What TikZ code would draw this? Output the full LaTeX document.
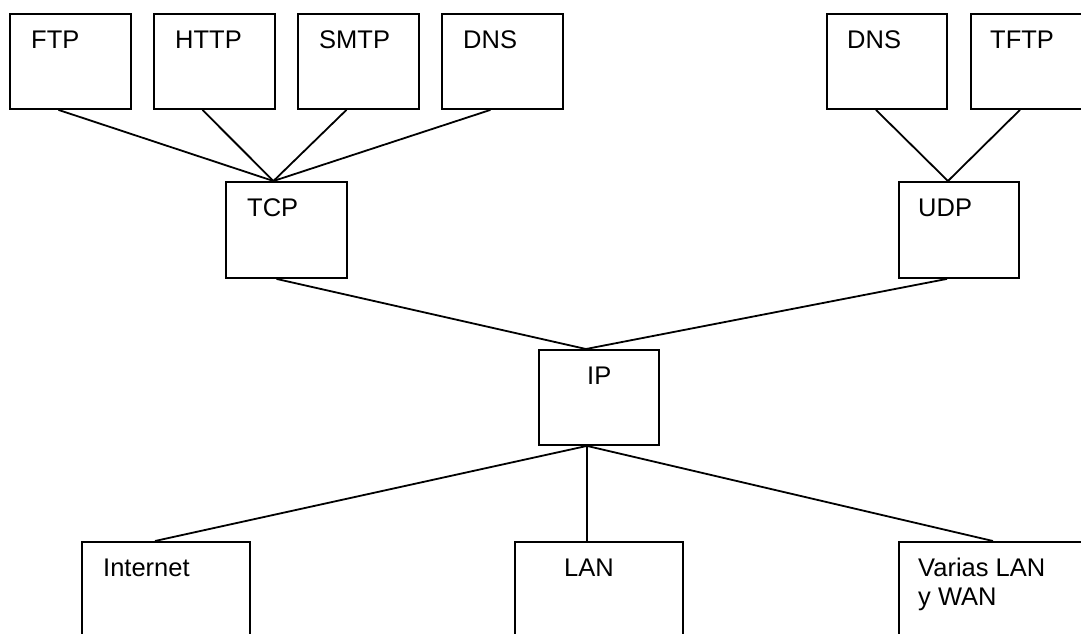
\documentclass[tikz,border=0pt]{standalone}
\usepackage{fontspec}
\setmainfont{Liberation Sans}
\begin{document}
\begin{tikzpicture}[x=1pt,y=-1pt,
  box/.style={draw, line width=1.9pt, inner sep=0pt, anchor=north west},
  lbl/.style={anchor=base west, inner sep=0pt, font=\fontsize{25.5}{29}\selectfont},
  wire/.style={line width=1.8pt}]
\clip (0,0) rectangle (1081,633);
\fill[white] (0,0) rectangle (1081,633);
% boxes: \mkbox{name}{x}{y}{width}{height}{text inset}{text}
\newcommand\mkbox[7]{%
  \node[box, minimum width=#4pt, minimum height=#5pt] (#1) at (#2,#3) {};
  \node[lbl] (#1-t) at ([xshift=#6pt,yshift=-35pt]#1.north west) {#7};}
% application layer
\mkbox{ftp}{9}{13}{121}{95}{22}{FTP}
\mkbox{http}{153}{13}{121}{95}{22}{HTTP}
\mkbox{smtp}{297}{13}{121}{95}{22}{SMTP}
\mkbox{dnsa}{441}{13}{121}{95}{22}{DNS}
\mkbox{dnsb}{826}{13}{120}{95}{21}{DNS}
\mkbox{tftp}{970}{13}{120}{95}{20}{TFTP}
% transport layer
\mkbox{tcp}{225}{181}{121}{96}{22}{TCP}
\mkbox{udp}{898}{181}{120}{96}{20}{UDP}
% network layer
\mkbox{ip}{538}{349}{120}{95}{49}{IP}
% networks
\mkbox{inet}{81}{541}{168}{110}{22}{Internet}
\mkbox{lan}{514}{541}{168}{110}{50}{LAN}
\mkbox{wan}{898}{541}{212}{110}{20}{\begin{tabular}[t]{@{}l@{}}Varias LAN\\y WAN\end{tabular}}
% connectors
\foreach \a in {ftp,http,smtp,dnsa}
  \draw[wire] ([xshift=-12pt]\a.south) -- ([xshift=-13pt]tcp.north);
\foreach \a in {dnsb,tftp}
  \draw[wire] ([xshift=-11pt]\a.south) -- ([xshift=-11pt]udp.north);
\draw[wire] ([xshift=-10pt]tcp.south) -- ([xshift=-13pt]ip.north);
\draw[wire] ([xshift=-12pt]udp.south) -- ([xshift=-13pt]ip.north);
\draw[wire] ([xshift=-12pt]ip.south) -- ([xshift=-11pt]inet.north);
\draw[wire] ([xshift=-12pt]ip.south) -- ([xshift=-12pt]lan.north);
\draw[wire] ([xshift=-12pt]ip.south) -- ([xshift=-12pt]wan.north);
\end{tikzpicture}
\end{document}
